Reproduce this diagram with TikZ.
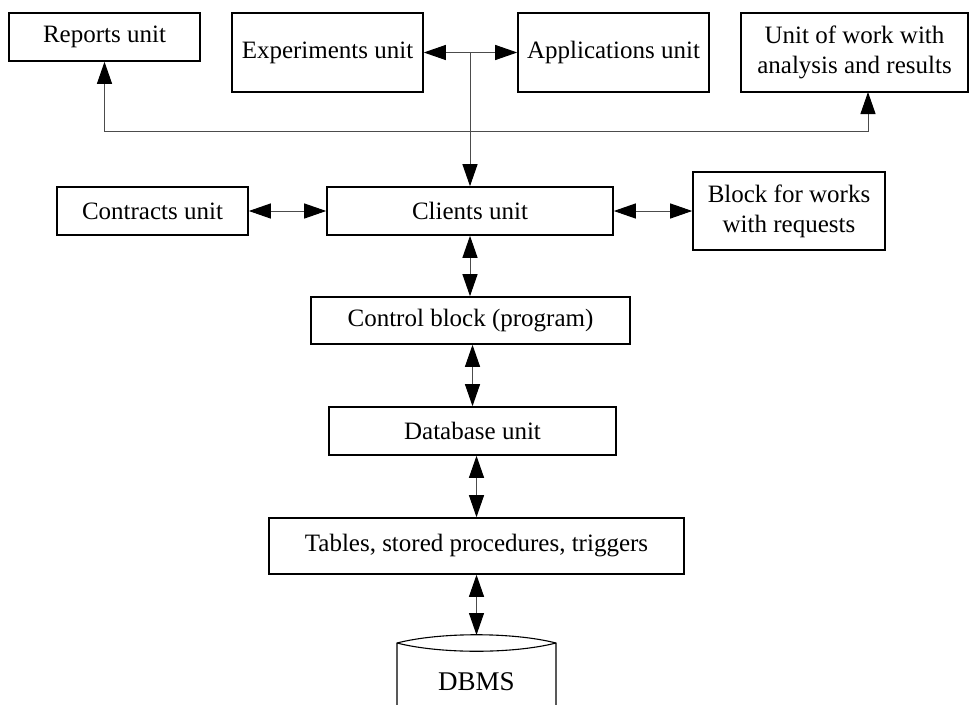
\documentclass[tikz,border=0pt]{standalone}
\usepackage{fontspec}
\setmainfont{Liberation Serif}
\usetikzlibrary{arrows.meta}
\begin{document}
\begin{tikzpicture}[x=1pt,y=-1pt,
 box/.style={draw,line width=1.6pt,inner sep=0pt,align=center,font=\fontsize{25}{30}\selectfont},
 tipa/.tip={Triangle[length=22pt,width=15pt,color=black]},
 conn/.style={line width=1pt,draw=black!70,tipa-tipa},
 one/.style={line width=1pt,draw=black!70,-tipa}]
\useasboundingbox (0,0) rectangle (969,704);
\node[box,minimum width=191pt,minimum height=48pt] (rep) at (104.5,37) {Reports unit};
\node[box,minimum width=191pt,minimum height=79pt] (exp) at (327.5,52.5) {Experiments unit};
\node[box,minimum width=191pt,minimum height=79pt] (app) at (613.5,52.5) {Applications unit};
\node[box,minimum width=227pt,minimum height=79pt] (uw) at (854.5,52.5) {Unit of work with\\analysis and results};
\node[box,minimum width=191pt,minimum height=48pt] (con) at (152.5,211) {Contracts unit};
\node[box,minimum width=286pt,minimum height=48pt] (cli) at (470,211) {Clients unit};
\node[box,minimum width=192pt,minimum height=78pt] (blk) at (789,211) {Block for works\\with requests};
\node[box,minimum width=319pt,minimum height=47pt] (ctl) at (470.5,320.5) {Control block (program)};
\node[box,minimum width=287pt,minimum height=48pt] (db) at (472.5,431) {Database unit};
\node[box,minimum width=415pt,minimum height=56pt] (tab) at (476.5,546) {Tables, stored procedures, triggers};
\node[inner sep=0pt,font=\fontsize{27}{30}\selectfont] (dbms) at (476.5,682) {DBMS};
\coordinate (dbtop) at (476.5,635);
\coordinate (j1) at (470,52.5);
\coordinate (j2) at (470,131.5);
\coordinate (uwin) at (868,92);
% DBMS cylinder (cut off at bottom)
\draw[line width=1.1pt] (397,712) -- (397,643) .. controls (440,632) and (513,632) .. (556,643) -- (556,712);
\draw[line width=1.1pt] (397,643) .. controls (440,654) and (513,654) .. (556,643);
% connectors
\draw[conn] (exp.east) -- (app.west);
\draw[one] (j1) -- (cli.north);
\draw[one] (j2) -| (rep.south);
\draw[one] (j2) -| (uwin);
\draw[conn] (con.east) -- (cli.west);
\draw[conn] (cli.east) -- (blk.west);
\draw[conn] (cli.south) -- (ctl.north -| cli.south);
\draw[conn] (ctl.south -| db.north) -- (db.north);
\draw[conn] (db.south -| tab.north) -- (tab.north);
\draw[conn] (tab.south) -- (dbtop);
\end{tikzpicture}
\end{document}
